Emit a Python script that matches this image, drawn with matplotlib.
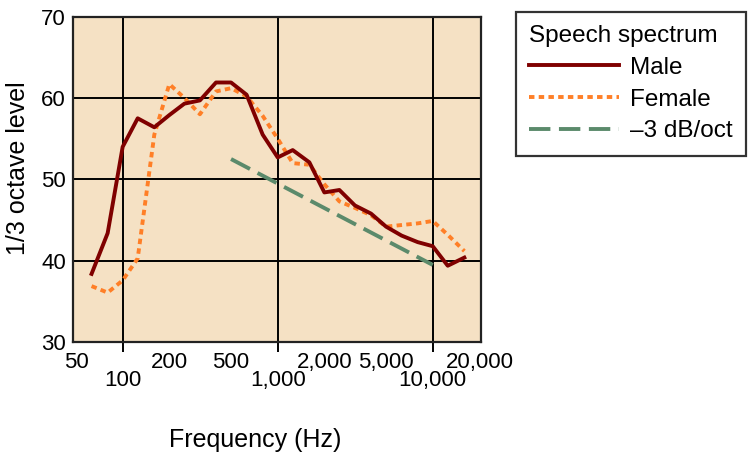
import matplotlib
matplotlib.use('Agg')
import matplotlib.pyplot as plt
from matplotlib.ticker import FixedLocator, FixedFormatter

plt.rcParams['font.family'] = ['Liberation Sans', 'DejaVu Sans']

# 1/3 octave band centre frequencies (Hz)
freqs = [63, 80, 100, 125, 160, 200, 250, 315, 400, 500, 630, 800, 1000,
         1250, 1600, 2000, 2500, 3150, 4000, 5000, 6300, 8000, 10000, 12500, 16000]

male = [38.4, 43.4, 54.0, 57.5, 56.4, 57.9, 59.3, 59.7, 61.9, 61.9, 60.4, 55.5, 52.7,
        53.6, 52.1, 48.4, 48.7, 46.8, 45.8, 44.2, 43.1, 42.3, 41.8, 39.4, 40.4]

female = [36.9, 36.1, 37.6, 40.3, 55.5, 61.7, 60.0, 58.0, 60.8, 61.2, 60.2, 57.8, 55.0,
          52.0, 51.8, 49.4, 47.3, 46.5, 45.6, 44.2, 44.4, 44.6, 44.9, 43.2, 41.2]

slope_freqs = [500, 10000]
slope_vals = [52.5, 39.5]

major_ticks = [100, 1000, 10000]
major_labels = ['100', '1,000', '10,000']
minor_ticks = [50, 200, 500, 2000, 5000, 20000]
minor_labels = ['50', '200', '500', '2,000', '5,000', '20,000']
y_ticks = [30, 40, 50, 60, 70]

fig = plt.figure(figsize=(7.51, 4.55), dpi=100)
ax = fig.add_axes([0.0968, 0.2477, 0.5433, 0.716])
ax.set_facecolor('#F5E1C4')

ax.plot(freqs, male, color='#7F0000', lw=2.8, label='Male', zorder=4)
ax.plot(freqs, female, color='#FF7F27', lw=2.8, dashes=(1.4, 1.1), label='Female', zorder=3)
ax.plot(slope_freqs, slope_vals, color='#5B8A6B', lw=2.8, dashes=(5.5, 2.2),
        label='\u20133 dB/oct', zorder=3)

ax.set_xscale('log')
ax.set_xlim(47.6, 20400)
ax.set_ylim(30, 70)

ax.xaxis.set_major_locator(FixedLocator(major_ticks))
ax.xaxis.set_major_formatter(FixedFormatter(major_labels))
ax.xaxis.set_minor_locator(FixedLocator(minor_ticks))
ax.xaxis.set_minor_formatter(FixedFormatter(minor_labels))
ax.tick_params(axis='x', which='major', length=7, width=1.4, direction='out',
               labelsize=16, pad=13)
ax.tick_params(axis='x', which='minor', length=0, labelsize=16, pad=7)

ax.set_yticks(y_ticks)
ax.tick_params(axis='y', length=0, labelsize=16, pad=5)

ax.grid(True, which='major', color='black', lw=1.4, zorder=1)
ax.set_axisbelow(True)
for s in ax.spines.values():
    s.set_linewidth(1.6)
    s.set_color('#222222')

ax.set_xlabel('Frequency (Hz)', fontsize=18, va='center')
ax.xaxis.set_label_coords(0.447, -0.30)
ax.set_ylabel('1/3 octave level', fontsize=18, va='center')
ax.yaxis.set_label_coords(-0.134, 0.535)

leg = ax.legend(title='Speech spectrum', loc='upper left',
                bbox_to_anchor=(0.687, 0.974), bbox_transform=fig.transFigure,
                fontsize=17.5, title_fontsize=17.5, frameon=True, fancybox=False,
                handlelength=3.7, handletextpad=0.45, labelspacing=0.4,
                borderpad=0.55, borderaxespad=0, alignment='left')
leg.get_frame().set_edgecolor('black')
leg.get_frame().set_linewidth(1.6)

fig.savefig('out.png', dpi=100)
